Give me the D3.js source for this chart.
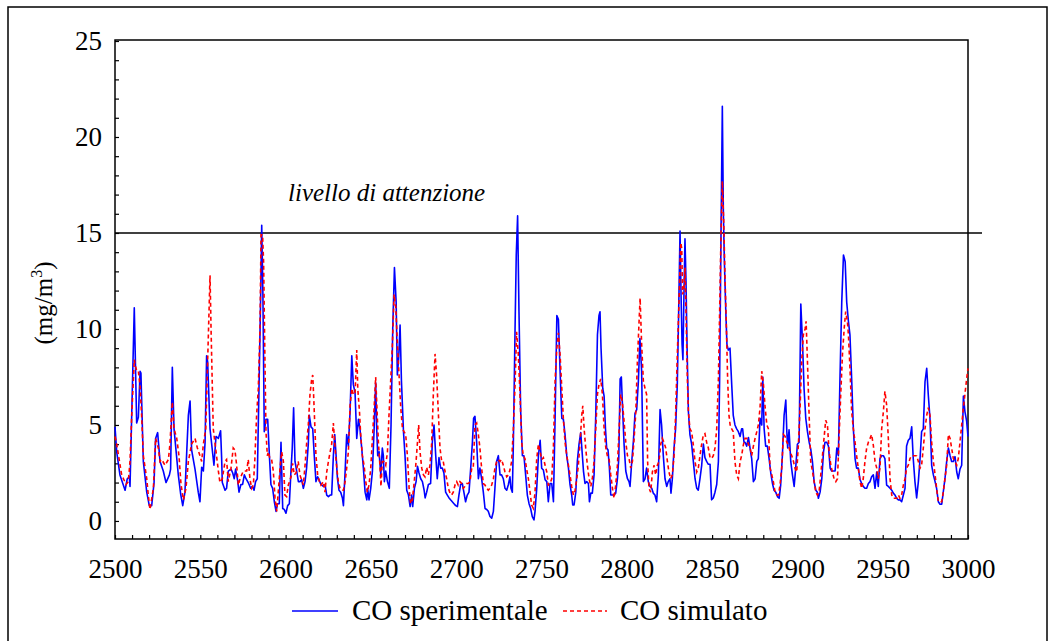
<!DOCTYPE html>
<html>
<head>
<meta charset="utf-8">
<script src="https://cdn.jsdelivr.net/npm/d3@7"></script>
<style>
  html, body { margin: 0; padding: 0; background: #fff; }
</style>
</head>
<body>
<svg id="chart" width="1055" height="641"></svg>
<script>
// Hourly CO concentration (mg/m3), measured vs simulated
const expHours = [2500,2501,2502.9,2505.9,2507.2,2508.4,2508.8,2511.3,2512.7,2513.7,2514.7,2515.2,2516.6,2518.6,2520.1,2521.5,2522.9,2523.8,2525,2526.4,2528.3,2529.9,2531.9,2532.6,2533.6,2534.6,2537.1,2538.5,2539.7,2541,2543,2544,2544.9,2546.9,2548.8,2549.8,2550.8,2551.8,2552.8,2553.7,2554.3,2555.7,2558,2559.2,2560.6,2561.9,2562.5,2562.9,2564.5,2565.4,2566.4,2568,2569,2569.9,2570.7,2571.9,2572.7,2573.8,2574.8,2575.8,2576.8,2578.1,2579.5,2580.5,2581.5,2582.4,2583.4,2584.4,2585.4,2586,2586.7,2587.5,2588.5,2589.5,2590.5,2591.4,2592.4,2593.4,2594.4,2595.3,2596.3,2597.3,2598.3,2599.2,2600.2,2601.2,2602.2,2603.2,2603.9,2604.7,2605.5,2606.5,2607.5,2608.4,2609.4,2610.4,2611.4,2612.3,2613.3,2613.9,2614.9,2615.9,2616.8,2617.8,2618.8,2619.8,2620.7,2622.1,2623.1,2624.1,2625.1,2626.1,2627,2628,2628.8,2629.6,2630.4,2631.3,2632.3,2633.3,2633.9,2634.9,2635.8,2636.8,2637.8,2638.8,2639.7,2640.7,2641.7,2642.7,2643.6,2644.6,2645.6,2646.6,2647.6,2648.1,2648.9,2649.9,2650.9,2651.9,2652.8,2653.4,2654,2654.8,2655.8,2656.7,2657.3,2657.9,2658.7,2659.7,2660.8,2661.8,2662.8,2663.8,2664.8,2665.5,2666.3,2667.1,2667.9,2669.1,2670,2671,2672,2673,2673.9,2674.5,2675.5,2676.5,2677.3,2678.2,2679.2,2680.2,2681.2,2681.8,2682.7,2683.7,2685,2686,2687,2688,2688.9,2689.9,2690.9,2691.9,2692.8,2693.8,2694.8,2695.8,2696.7,2697.7,2698.7,2699.7,2700.7,2701.6,2702.6,2703.6,2704.6,2705.5,2706.5,2707.5,2708.5,2709.5,2710.2,2711,2712,2713,2713.9,2714.9,2715.9,2716.9,2717.9,2718.8,2719.8,2720.8,2721.8,2722.7,2723.7,2724.7,2725.7,2726.6,2727.6,2728.6,2729.6,2730.6,2731.5,2732.1,2732.9,2733.5,2734.5,2735.2,2736,2736.8,2737.8,2738.8,2739.7,2740.7,2741.7,2742.7,2743.6,2744.6,2745.6,2746.2,2747.2,2748.2,2749.2,2750.1,2751.1,2752.1,2753.1,2754,2755,2756,2757,2758,2759,2759.9,2760.9,2761.9,2762.8,2763.8,2764.8,2765.8,2766.7,2767.7,2768.3,2769.1,2770.1,2771,2772,2773,2773.6,2774.6,2775.5,2776.5,2777.5,2778.1,2778.9,2779.8,2780.8,2781.8,2782.8,2783.7,2784.3,2784.9,2785.9,2786.7,2787.5,2788.2,2789,2789.8,2790.6,2791.6,2792.5,2793.5,2794.5,2795.3,2796.1,2796.8,2797.6,2798.4,2799.4,2800.4,2801.3,2801.9,2802.9,2803.9,2804.8,2805.8,2806.8,2807.7,2808.7,2809.7,2810.7,2811.6,2812.6,2813.6,2814.6,2815.5,2816.5,2817.5,2818.5,2819.5,2820.4,2821.4,2822.4,2823.4,2824.3,2825.3,2825.9,2826.7,2827.7,2828.6,2829.6,2830.4,2831.2,2831.8,2832.4,2832.9,2833.5,2834.1,2834.7,2835.3,2836.1,2837,2838,2839,2840,2841,2841.9,2842.9,2843.9,2844.9,2845.8,2846.8,2847.8,2848.8,2849.7,2850.7,2851.7,2852.7,2853.7,2854.4,2855.2,2856,2856.6,2857.2,2858,2858.7,2859.5,2860.5,2861.5,2862.4,2863.4,2864.4,2865.4,2866.4,2867.3,2867.9,2868.7,2869.3,2870.3,2871.3,2872.3,2873.2,2874.2,2875.2,2876.2,2877.1,2878.1,2879.1,2879.7,2880.5,2881.4,2882.4,2883.4,2884.4,2885.4,2886.3,2887.3,2888.3,2889.3,2890.2,2891.2,2892.2,2893.2,2893.8,2894.3,2895.1,2896.1,2897.1,2898.1,2899,2900,2901,2902,2903,2903.9,2904.9,2905.9,2906.9,2907.8,2908.8,2909.8,2910.8,2911.7,2912.3,2913.3,2914.3,2915.3,2916.2,2917.2,2918.2,2919.2,2920.1,2921.1,2922.1,2923.1,2924,2925,2926,2927,2928,2928.9,2929.9,2930.8,2931.8,2932.8,2933.8,2934.7,2935.7,2936.7,2937.7,2938.6,2939.6,2940.6,2941.6,2942.6,2943.5,2944.5,2945.5,2946.5,2947.4,2948.4,2949.4,2950.4,2951.3,2952.3,2953.3,2954.3,2955.3,2956.2,2957.2,2958.2,2959.2,2960.1,2961.1,2962.1,2963.1,2964,2965,2966,2967,2967.9,2968.9,2969.9,2970.9,2971.9,2972.8,2973.8,2974.8,2975.8,2976.7,2977.7,2978.7,2979.7,2980.7,2981.6,2982.6,2983.6,2984.6,2985.5,2986.5,2987.5,2988.5,2989.5,2990.4,2991.4,2992.4,2993.4,2994.3,2995.3,2996.3,2997.3,2998.2,2999.2,3000];
const expValues = [4.9,3.6,2.4,1.6,2.2,2.3,1.8,11.1,5.1,5.4,7.8,7.7,3.1,1.5,0.8,0.8,2.0,4.3,4.6,3.1,2.6,2.0,2.4,2.7,8.0,4.8,2.4,1.4,0.8,1.5,5.5,6.25,3.7,2.7,1.5,1.0,2.8,2.6,4.1,8.6,8.3,4.8,2.9,4.4,4.3,4.7,3.3,2.0,1.6,1.7,2.6,2.7,2.5,2.2,2.7,2.1,1.5,1.9,1.9,2.4,2.2,2.0,1.7,1.8,1.6,2.05,2.2,6.9,11.8,15.4,11.8,4.65,5.3,5.3,3.4,1.9,1.7,1.0,0.5,0.9,0.9,4.1,0.65,0.6,0.4,0.8,0.9,2.7,3.8,5.9,3.1,2.6,2.05,2.05,2.15,1.7,2.05,2.75,4.0,5.5,4.9,4.8,3.4,2.05,2.3,2.1,1.9,1.8,1.9,1.35,1.27,1.35,1.35,3.4,4.5,3.4,2.2,1.6,1.5,1.2,0.8,2.6,4.5,3.9,5.7,8.6,7.1,6.7,4.3,5.3,4.8,3.8,2.75,1.5,1.1,1.7,1.1,1.7,2.6,4.8,7.2,4.8,3.4,3.6,2.4,3.8,3.4,2.05,2.6,2.05,1.7,5.0,10.0,13.2,11.4,7.6,8.5,10.2,7.3,4.65,3.4,1.6,1.35,0.75,1.35,0.75,1.7,2.05,2.85,2.5,2.2,2.05,1.6,1.2,1.5,1.9,1.95,4.1,5.0,3.4,2.2,3.3,2.75,2.75,2.5,1.5,1.35,1.2,1.1,1.0,0.9,0.8,0.75,1.35,1.9,1.95,1.45,1.0,1.35,1.5,2.75,4.1,5.35,5.45,4.1,2.2,2.75,2.2,1.5,0.65,0.6,0.5,0.23,0.14,0.5,1.7,3.1,3.4,2.4,2.4,2.2,1.7,1.6,1.9,2.3,1.7,1.5,4.0,10.0,13.85,15.9,10.9,5.7,3.4,3.4,2.4,1.35,0.9,0.66,0.23,0.05,0.5,1.7,3.4,4.2,2.75,2.65,2.15,2.05,1.0,1.95,1.95,1.0,5.5,10.7,10.5,7.8,5.35,5.3,4.5,3.4,2.75,1.9,1.35,0.83,0.83,1.5,3.1,4.0,4.6,3.85,2.6,1.95,2.05,1.95,1.0,1.45,1.45,2.4,5.5,9.7,10.7,10.9,9.0,6.9,6.5,4.8,3.8,3.7,2.75,1.35,1.35,1.35,1.45,2.2,3.25,7.4,7.5,5.7,4.0,2.6,2.2,2.05,1.8,3.1,4.2,5.6,5.8,7.3,9.5,7.8,2.05,2.2,2.75,2.05,1.8,1.7,1.45,1.35,1.0,2.4,5.8,5.0,3.4,2.2,1.8,2.05,2.2,1.45,2.2,3.8,4.8,7.1,10.9,15.1,11.8,9.2,8.4,11.8,14.7,12.5,9.2,5.7,4.5,4.0,3.1,2.2,1.7,1.6,2.2,2.9,4.0,3.3,3.1,2.95,2.95,1.1,1.2,1.5,1.9,3.1,7.3,14.7,21.6,16.1,13.5,11.0,9.2,8.9,9.0,7.1,5.5,5.0,4.8,4.65,4.4,4.8,4.8,4.1,4.1,3.9,4.35,3.75,3.25,2.05,2.2,3.1,3.25,5.35,5.0,7.5,4.8,3.9,3.9,3.25,2.5,1.95,1.6,1.5,1.27,1.18,1.87,3.4,5.5,6.3,4.65,3.8,4.75,3.1,2.4,1.8,2.75,4.0,4.1,11.3,9.3,6.9,5.35,4.65,4.1,3.75,3.1,2.05,1.6,1.5,1.18,1.5,2.2,3.6,4.1,4.1,3.9,2.75,2.6,2.6,2.6,3.8,3.4,7.6,11.4,13.85,13.5,11.4,10.4,9.7,7.4,4.8,3.25,2.75,2.75,2.15,1.95,1.8,1.7,1.7,1.95,2.05,2.3,2.4,1.7,2.55,1.8,3.25,3.4,3.4,3.25,1.87,1.8,1.7,1.6,1.45,1.35,1.18,1.1,1.1,1.0,1.35,1.7,3.9,4.2,4.3,4.9,3.25,2.05,1.2,2.05,3.25,4.65,4.8,7.25,7.95,6.6,5.35,2.9,2.4,2.05,1.7,1.0,0.87,0.87,1.5,2.2,3.1,3.8,3.4,3.1,3.1,3.35,2.55,2.2,2.7,2.9,6.5,5.7,5.2,4.4];

const simHours = [2500,2501,2503.9,2506.5,2507.8,2508.8,2509.8,2511.3,2512.7,2513.7,2514.7,2515.6,2516.6,2518.6,2519.5,2520.5,2522.5,2523.8,2525.4,2526.4,2527.4,2529.3,2531.3,2532.2,2533.6,2534.6,2536.2,2537.5,2538.7,2540.1,2541.6,2543,2544.9,2546.9,2548.3,2549.8,2550.8,2551.8,2553.2,2554.3,2555.7,2556.3,2557.6,2560.6,2561.5,2562.9,2564.5,2565.4,2566.4,2568,2569.3,2570.3,2571.3,2572.3,2573.3,2575.2,2577.2,2578.1,2579.1,2580.1,2581.1,2582,2583,2584,2585,2585.6,2586.5,2587.1,2587.9,2588.5,2589.3,2589.9,2590.8,2591.8,2592.8,2593.8,2594.8,2595.7,2596.7,2597.7,2598.7,2599.6,2600.6,2601.6,2603.2,2604.1,2605.1,2606.1,2607.4,2608.4,2610.4,2611.4,2612.3,2613.3,2614.3,2615.3,2615.9,2616.4,2617.2,2617.8,2618.8,2619.8,2620.7,2622.1,2623.1,2624.1,2625.1,2626.1,2627,2628,2629,2630,2630.9,2631.9,2632.9,2633.9,2634.9,2635.8,2636.8,2637.8,2638.8,2639.7,2640.7,2641.7,2642.3,2643.3,2644,2645,2646,2647,2647.9,2648.9,2649.9,2650.9,2651.9,2652.8,2653.4,2654.4,2655.4,2655.9,2656.7,2657.7,2658.7,2659.7,2660.6,2661.6,2662.6,2663.6,2664.6,2665.5,2666.5,2667.5,2668.5,2669.4,2670.4,2671.4,2672.4,2673.3,2674.3,2675.3,2676.3,2677.3,2678,2678.8,2679.8,2680.8,2681.7,2682.7,2683.7,2684.6,2685.6,2686.6,2687.6,2688.5,2689.5,2690.5,2691.5,2692.4,2693.4,2694.4,2695.4,2696.4,2697.3,2698.3,2699.3,2700.3,2701.2,2702.2,2703.2,2704.2,2705.1,2706.1,2707.1,2708.1,2709.1,2710,2711,2712,2713,2713.9,2714.9,2715.9,2716.9,2717.9,2718.8,2719.8,2720.8,2721.8,2722.7,2723.7,2724.7,2725.7,2726.6,2727.6,2728.6,2729.6,2730.6,2731.5,2732.5,2733.5,2734.5,2735.4,2736.4,2737.4,2738.4,2739.3,2740.3,2741.3,2742.3,2743.3,2744.2,2745.2,2746.2,2747.2,2748.2,2749.2,2750.1,2751.1,2752.1,2753.1,2754,2755,2756,2757,2758,2759,2759.9,2760.9,2761.9,2762.8,2763.8,2764.8,2765.8,2766.7,2767.7,2768.7,2769.7,2770.7,2771.6,2772.6,2773.6,2774.2,2775,2775.9,2776.9,2777.9,2778.9,2779.8,2780.8,2781.8,2782.8,2783.7,2784.7,2785.7,2786.7,2787.7,2788.6,2789.6,2790.6,2791.6,2792.5,2793.5,2794.5,2795.5,2796.4,2797.4,2798.4,2799.4,2800.4,2801.3,2802.3,2803.3,2804.3,2805.3,2806.2,2807.2,2807.8,2808.7,2809.7,2810.7,2811.6,2812.2,2813,2814,2815,2816,2816.9,2817.9,2818.9,2819.9,2820.8,2821.8,2822.8,2823.8,2824.7,2825.7,2826.7,2827.7,2828.6,2829.6,2830.6,2831.6,2832.2,2832.7,2833.5,2834.1,2834.7,2835.5,2836.1,2837,2838,2839,2840,2841,2841.9,2842.9,2843.9,2844.9,2845.8,2846.8,2847.8,2848.8,2849.7,2850.7,2851.7,2852.7,2853.7,2854.6,2855.2,2856,2856.8,2857.6,2858.4,2859.1,2859.9,2860.7,2861.5,2862.4,2863.4,2864.4,2865.4,2866.4,2867.3,2868.3,2869.3,2870.3,2871.3,2872.3,2873.2,2874.2,2875.2,2876.2,2877.1,2878.1,2879.1,2880.1,2881.1,2882.1,2883,2884,2885,2885.9,2886.9,2887.9,2888.9,2889.8,2890.8,2891.8,2892.8,2893.8,2894.7,2895.7,2896.7,2897.7,2898.6,2899.6,2900.6,2901.6,2902.5,2903.5,2904.5,2905.1,2905.9,2906.8,2907.8,2908.8,2909.8,2910.8,2911.7,2912.7,2913.7,2914.7,2915.6,2916.6,2917.6,2918.6,2919.6,2920.5,2921.5,2922.5,2923.5,2924.4,2925.4,2926.4,2927.4,2928.3,2929.3,2929.9,2930.8,2931.8,2932.8,2933.8,2934.7,2935.7,2936.7,2937.7,2938.6,2939.6,2940.6,2941.6,2942.6,2943.5,2944.5,2945.5,2946.5,2947.4,2948.4,2949.4,2950.4,2951.3,2952.3,2953.3,2954.3,2955.3,2956.2,2957.2,2958.2,2959.2,2960.1,2961.1,2962.1,2963.1,2964,2965,2966,2967,2967.9,2968.9,2969.9,2970.9,2971.9,2972.8,2973.8,2974.8,2975.8,2976.7,2977.7,2978.7,2979.7,2980.7,2981.6,2982.6,2983.6,2984.6,2985.5,2986.5,2987.5,2988.5,2989.5,2990.4,2991.4,2992.4,2993.4,2994.3,2995.3,2996.3,2997.3,2998.2,2999.2,3000];
const simValues = [4.4,4.0,2.4,1.9,2.05,3.1,5.5,8.4,7.8,7.8,7.0,5.5,3.4,2.2,1.35,0.6,1.7,4.3,3.8,3.1,3.2,2.9,3.2,4.0,6.2,4.8,4.3,3.4,1.9,1.1,1.7,3.1,4.0,4.3,3.8,3.4,3.1,4.0,4.8,8.3,12.8,10.0,4.8,2.6,2.0,2.2,3.1,3.2,2.05,2.75,3.8,3.7,2.9,1.87,2.2,2.6,2.6,3.2,2.2,1.7,1.87,3.25,5.5,6.9,10.0,14.9,14.9,13.5,8.3,4.65,3.4,3.6,3.25,3.2,2.6,1.2,0.5,1.5,2.7,3.6,3.1,1.35,1.27,1.87,2.3,3.0,2.4,2.5,3.1,2.4,1.87,2.9,4.0,5.0,6.6,7.4,7.6,6.6,4.8,3.4,2.4,2.05,1.87,2.05,1.5,2.55,3.1,3.6,4.0,5.1,3.8,2.75,2.05,1.7,1.6,1.6,2.05,2.75,3.6,6.0,6.9,6.6,6.6,8.9,6.9,5.7,4.5,3.4,2.9,2.05,1.5,1.87,2.75,4.3,5.9,7.5,6.2,4.1,2.75,1.8,3.1,3.1,2.9,3.6,5.5,7.3,9.2,11.8,11.1,9.3,7.6,5.9,4.8,4.65,4.5,3.4,1.7,0.9,1.1,1.95,2.9,4.1,5.0,3.6,2.75,2.4,2.3,2.8,2.4,2.9,4.0,6.6,8.7,7.6,5.7,3.8,3.1,3.1,2.6,2.2,1.7,1.45,1.35,1.5,1.87,2.05,1.87,2.05,1.95,1.7,1.8,1.95,1.95,2.05,2.75,2.75,5.0,5.1,4.5,3.8,2.75,1.95,1.87,1.7,1.6,1.7,1.87,2.2,2.75,3.1,3.2,3.1,3.2,2.9,2.55,2.3,2.4,2.65,3.1,4.8,7.1,9.85,8.7,6.6,4.1,3.4,3.25,2.7,2.2,1.5,0.83,0.66,1.5,3.25,4.0,3.6,3.2,3.3,2.9,2.55,1.87,1.95,2.2,3.9,7.4,9.0,9.8,8.65,6.9,5.35,4.1,3.4,2.9,2.4,1.8,1.35,1.6,2.2,2.9,4.1,5.5,6.0,4.8,3.8,2.9,2.2,1.8,2.2,3.1,4.8,6.6,7.1,7.4,6.6,4.8,3.8,3.4,3.25,2.4,1.7,1.18,1.87,2.9,4.8,6.6,6.2,5.2,4.1,3.4,3.25,2.75,3.1,4.3,5.7,8.3,10.4,11.6,9.2,7.3,6.9,6.6,3.1,1.7,1.5,2.55,2.9,2.4,2.9,3.1,4.0,4.3,4.1,3.8,3.1,2.55,2.2,2.4,3.4,5.5,8.65,11.4,14.5,14.2,11.8,12.1,13.2,10.9,7.4,5.7,4.8,4.65,3.95,3.1,2.55,2.75,3.4,4.0,4.5,4.55,4.1,3.8,3.3,3.25,3.4,3.8,4.8,7.4,11.8,14.9,17.7,15.6,12.6,10.0,7.4,5.5,4.9,4.8,4.65,3.1,2.4,2.2,3.1,3.4,3.95,4.3,4.3,4.0,3.8,3.4,3.9,4.3,4.65,5.0,5.9,7.8,7.1,5.9,5.0,4.8,2.75,2.4,2.05,1.5,1.35,1.35,1.87,2.75,4.5,4.4,4.1,3.95,3.6,3.4,3.1,2.75,2.55,4.0,6.0,8.3,9.7,10.0,10.4,8.3,5.7,3.1,2.6,2.05,1.5,1.35,1.5,2.4,3.4,4.3,5.25,5.0,3.6,2.9,2.55,2.2,2.05,2.2,4.3,6.6,8.65,10.0,10.9,10.4,9.7,8.0,5.7,4.8,4.1,3.4,2.75,2.05,1.7,2.2,3.1,3.8,4.1,4.3,4.5,3.95,3.1,2.75,2.2,2.75,4.8,5.7,6.75,6.05,4.3,2.2,1.35,1.18,1.18,1.18,1.35,1.18,1.35,1.87,2.2,2.75,2.9,3.25,3.4,3.4,3.4,3.4,3.1,2.75,2.9,3.8,4.8,5.5,5.9,5.5,4.1,3.1,2.4,1.7,1.0,1.0,1.0,1.5,2.2,2.9,4.5,4.3,3.8,3.25,3.1,2.9,3.25,4.1,5.0,5.9,6.6,7.4,7.95];

const xTicks = d3.range(2500, 3001, 10);
const xLabelTicks = [2500, 2550, 2600, 2650, 2700, 2750, 2800, 2850, 2900, 2950, 3000];
const yTicks = d3.range(0, 26, 1);
const yLabelTicks = [0, 5, 10, 15, 20, 25];
const thresholdValue = 15;
const thresholdLabel = "livello di attenzione";
const seriesNames = ["CO sperimentale", "CO simulato"];
const seriesColors = ["#0000ff", "#ff0000"];

const SERIF = "'Liberation Serif', Tinos, 'Times New Roman', Times, 'DejaVu Serif', serif";

const svg = d3.select("#chart");
const frame = { left: 115, right: 968, top: 40, bottom: 539 };

const x = d3.scaleLinear().domain([2500, 3000]).range([frame.left, frame.right]);
const y = d3.scaleLinear().domain([-0.94, 25]).range([frame.bottom, 41]);

// outer figure border
svg.append("rect")
  .attr("x", 8).attr("y", 7).attr("width", 1039).attr("height", 650)
  .attr("fill", "none").attr("stroke", "#000").attr("stroke-width", 1.5);

// plot frame
svg.append("rect")
  .attr("x", frame.left).attr("y", frame.top)
  .attr("width", frame.right - frame.left).attr("height", frame.bottom - frame.top)
  .attr("fill", "none").attr("stroke", "#000").attr("stroke-width", 1.5);

// bottom axis: ticks every 10 pointing inward, labels every 50
const xAxis = d3.axisBottom(x)
  .tickValues(xTicks)
  .tickSizeInner(-4).tickSizeOuter(0)
  .tickPadding(20)
  .tickFormat(d => xLabelTicks.includes(d) ? d : "");
const gx = svg.append("g").attr("transform", `translate(0,${frame.bottom})`).call(xAxis);
gx.select(".domain").remove();
gx.selectAll(".tick line").attr("stroke", "#000").attr("stroke-width", 1.2);
gx.selectAll(".tick text").style("font-family", SERIF).style("font-size", "27px").attr("fill", "#000");

// left axis: ticks every unit pointing inward, labels every 5
const yAxis = d3.axisLeft(y)
  .tickValues(yTicks)
  .tickSizeInner(-4).tickSizeOuter(0)
  .tickPadding(13)
  .tickFormat(d => yLabelTicks.includes(d) ? d : "");
const gy = svg.append("g").attr("transform", `translate(${frame.left},0)`).call(yAxis);
gy.select(".domain").remove();
gy.selectAll(".tick line").attr("stroke", "#000").attr("stroke-width", 1.2);
gy.selectAll(".tick text").style("font-family", SERIF).style("font-size", "27px").attr("fill", "#000");

// y axis title with superscript
const yTitle = svg.append("text")
  .attr("transform", "translate(52,303) rotate(-90)")
  .attr("text-anchor", "middle")
  .style("font-family", SERIF).style("font-size", "25px");
yTitle.append("tspan").text("(mg/m");
yTitle.append("tspan").style("font-size", "16px").attr("dy", -10).text("3");
yTitle.append("tspan").attr("dy", 10).text(")");

// attention threshold
svg.append("line")
  .attr("x1", x(2500)).attr("x2", x(3000) + 14)
  .attr("y1", y(thresholdValue)).attr("y2", y(thresholdValue))
  .attr("stroke", "#000").attr("stroke-width", 1.5);
svg.append("text")
  .attr("x", 288).attr("y", y(thresholdValue) - 32)
  .style("font-family", SERIF).style("font-size", "25px").style("font-style", "italic")
  .text(thresholdLabel);

const line = d3.line().x(d => x(d[0])).y(d => y(d[1]));
const expData = d3.zip(expHours, expValues);
const simData = d3.zip(simHours, simValues);

svg.append("path").datum(expData)
  .attr("d", line).attr("fill", "none")
  .attr("stroke", seriesColors[0]).attr("stroke-width", 1.6)
  .attr("stroke-linejoin", "round");
svg.append("path").datum(simData)
  .attr("d", line).attr("fill", "none")
  .attr("stroke", seriesColors[1]).attr("stroke-width", 1.6)
  .attr("stroke-dasharray", "4,3");

// legend
const legend = svg.append("g");
legend.append("line").attr("x1", 292).attr("x2", 338).attr("y1", 611).attr("y2", 611)
  .attr("stroke", seriesColors[0]).attr("stroke-width", 1.5);
legend.append("text").attr("x", 352).attr("y", 620)
  .style("font-family", SERIF).style("font-size", "29px").text(seriesNames[0]);
legend.append("line").attr("x1", 563).attr("x2", 607).attr("y1", 611).attr("y2", 611)
  .attr("stroke", seriesColors[1]).attr("stroke-width", 1.5).attr("stroke-dasharray", "4,3");
legend.append("text").attr("x", 620).attr("y", 620)
  .style("font-family", SERIF).style("font-size", "29px").text(seriesNames[1]);
</script>
</body>
</html>
